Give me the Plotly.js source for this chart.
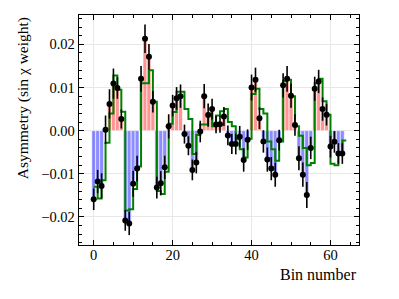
<!DOCTYPE html>
<html>
<head>
<meta charset="utf-8">
<script src="https://cdn.plot.ly/plotly-3.0.1.min.js"></script>
<style>html,body{margin:0;padding:0;background:#fff;}#chart{width:399px;height:299px;}</style>
</head>
<body>
<div id="chart"></div>
<script>
// Bin indices
const bins = Array.from({length: 64}, (_, i) => i);

// Measured asymmetry per bin
const asym = [
 -0.0159, -0.0118, -0.0128, 0.0002, 0.0062, 0.0109, 0.0099, 0.0027,
 -0.0208, -0.0215, -0.0123, -0.0088, 0.0120, 0.0213, 0.0171, 0.0067,
 -0.0132, -0.0122, -0.0085, 0.0010, 0.0058, 0.0075, 0.0080, -0.0008,
 -0.0035, -0.0091, -0.0074, -0.0002, 0.0080, 0.0036, 0.0050, 0.0014,
 0.0015, 0.0033, -0.0011, -0.0031, -0.0031, -0.0014, -0.0068, -0.0021,
 0.0100, 0.0118, 0.0029, -0.0025, -0.0067, -0.0088, -0.0102, -0.0022,
 0.0105, 0.0120, 0.0081, 0.0013, -0.0064, -0.0102, -0.0149, -0.0040,
 0.0097, 0.0114, 0.0050, 0.0037, -0.0037, -0.0026, -0.0053, -0.0053
];

// Statistical uncertainty per bin
const asymErr = [
 0.0025, 0.0027, 0.0029, 0.0033, 0.0034, 0.0035, 0.0025, 0.0022,
 0.0024, 0.0027, 0.0030, 0.0030, 0.0030, 0.0033, 0.0030, 0.0025,
 0.0025, 0.0028, 0.0027, 0.0028, 0.0025, 0.0026, 0.0027, 0.0022,
 0.0022, 0.0024, 0.0025, 0.0025, 0.0028, 0.0027, 0.0024, 0.0020,
 0.0020, 0.0022, 0.0023, 0.0023, 0.0024, 0.0025, 0.0027, 0.0024,
 0.0030, 0.0028, 0.0025, 0.0026, 0.0028, 0.0027, 0.0028, 0.0024,
 0.0028, 0.0030, 0.0028, 0.0025, 0.0028, 0.0028, 0.0030, 0.0026,
 0.0028, 0.0027, 0.0027, 0.0025, 0.0025, 0.0025, 0.0024, 0.0024
];

// Model prediction per bin (green step line)
const model = [
 -0.0130, -0.0157, -0.0115, -0.0028, 0.0040, 0.0128, 0.0095, 0.0044,
 -0.0185, -0.0182, -0.0135, -0.0083, 0.0110, 0.0110, 0.0140, 0.0067,
 -0.0140, -0.0147, -0.0095, 0.0016, 0.0043, 0.0090, 0.0090, 0.0050,
 0.0027, -0.0054, -0.0010, 0.0014, 0.0014, 0.0040, 0.0010, 0.0035,
 0.0045, 0.0050, 0.0020, 0.0010, -0.0020, -0.0043, -0.0062, -0.0019,
 0.0085, 0.0097, 0.0050, 0.0040, -0.0025, -0.0043, -0.0070, -0.0025,
 0.0115, 0.0118, 0.0080, 0.0010, -0.0012, -0.0040, -0.0080, -0.0075,
 0.0110, 0.0120, 0.0068, 0.0037, -0.0077, -0.0080, -0.0053, -0.0023
];

const yTickVals = [-0.02, -0.01, 0.0, 0.01, 0.02];
const xTickVals = [0, 20, 40, 60];
const xLabel = 'Bin number';
const yLabel = 'Asymmetry (sin \u03c7 weight)';

const barColors = asym.map(v => v >= 0 ? 'rgba(255,0,0,0.42)' : 'rgba(0,0,255,0.45)');
const stepX = bins.concat([bins.length]);
const stepY = model.concat([model[model.length - 1]]);

const FONT = 'Liberation Serif, DejaVu Serif, serif';

const traces = [
  {
    type: 'bar', x: bins, y: asym, width: 1,
    marker: {color: barColors, line: {color: '#ffffff', width: 0.6}},
    hoverinfo: 'skip', showlegend: false
  },
  {
    type: 'scatter', mode: 'lines', x: stepX, y: stepY,
    line: {shape: 'hv', color: '#008000', width: 2},
    hoverinfo: 'skip', showlegend: false
  },
  {
    type: 'scatter', mode: 'markers', x: bins, y: asym,
    marker: {color: '#000000', size: 6},
    error_y: {type: 'data', array: asymErr, visible: true, color: '#000000', thickness: 1.6, width: 0},
    showlegend: false
  }
];

const axisCommon = {
  showline: true, linecolor: '#000000', linewidth: 1.3, mirror: 'allticks',
  ticks: 'inside', ticklen: 5, tickwidth: 1, tickcolor: '#000000',
  showgrid: true, gridcolor: '#e8e8e8', gridwidth: 1, zeroline: false,
  tickfont: {family: FONT, size: 14.5, color: '#000000'}
};

const layout = {
  width: 399, height: 299,
  margin: {l: 79, r: 40, t: 15, b: 54},
  paper_bgcolor: '#ffffff', plot_bgcolor: '#ffffff',
  bargap: 0,
  font: {family: FONT, size: 14, color: '#000000'},
  xaxis: Object.assign({}, axisCommon, {
    range: [-3.725, 67.225], tickvals: xTickVals, ticktext: xTickVals.map(String),
    ticklabelstandoff: -4,
    minor: {ticks: 'inside', dtick: 5, tick0: 0, ticklen: 3, tickcolor: '#000000', showgrid: false}
  }),
  yaxis: Object.assign({}, axisCommon, {
    range: [-0.0265, 0.0268], tickvals: yTickVals, ticktext: yTickVals.map(v => (v < 0 ? '\u2212' : '') + Math.abs(v).toFixed(2)),
    minor: {ticks: 'inside', dtick: 0.002, tick0: 0, ticklen: 3, tickcolor: '#000000', showgrid: false}
  }),
  annotations: [
    {
      text: xLabel, xref: 'paper', yref: 'paper', x: 1, y: -0.13,
      xanchor: 'right', yanchor: 'middle', showarrow: false,
      font: {family: FONT, size: 16, color: '#000000'}
    },
    {
      text: yLabel, xref: 'paper', yref: 'paper', x: -0.199, y: 1,
      xanchor: 'center', yanchor: 'top', textangle: -90, showarrow: false,
      font: {family: FONT, size: 15.5, color: '#000000'}
    }
  ]
};

Plotly.newPlot('chart', traces, layout, {displayModeBar: false, staticPlot: true});
</script>
</body>
</html>
